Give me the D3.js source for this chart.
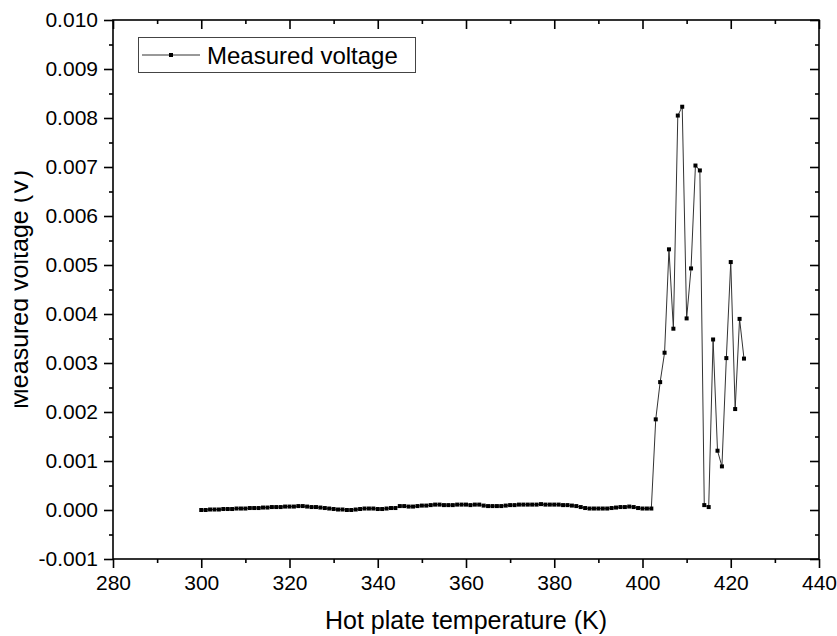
<!DOCTYPE html>
<html><head><meta charset="utf-8">
<script src="https://cdn.jsdelivr.net/npm/d3@7"></script>
<style>body{margin:0;background:#fff}svg{display:block}text{font-family:Arial,"Liberation Sans",sans-serif}</style>
</head><body>
<svg id="c" width="837" height="636"></svg>
<script>
const temperatures = d3.range(300, 424); // 300..423 K, 1 K steps
const flatVoltages = [
  0.00000,0.00000,0.00001,0.00001,0.00001,0.00002,0.00002,0.00002,0.00003,0.00003,0.00003,
  0.00004,0.00004,0.00004,0.00005,0.00005,0.00006,0.00006,0.00006,0.00007,0.00007,
  0.00007,0.00008,0.00008,0.00007,0.00006,0.00006,0.00005,0.00004,0.00003,0.00002,
  0.00001,0.00001,0.00000,0.00000,0.00001,0.00002,0.00003,0.00003,0.00003,0.00002,
  0.00002,0.00003,0.00004,0.00004,0.00008,0.00008,0.00007,0.00007,0.00008,0.00009,
  0.00009,0.00010,0.00011,0.00011,0.00010,0.00010,0.00010,0.00011,0.00011,0.00011,
  0.00010,0.00011,0.00011,0.00009,0.00008,0.00008,0.00008,0.00008,0.00009,0.00010,
  0.00010,0.00011,0.00011,0.00011,0.00011,0.00011,0.00012,0.00011,0.00011,0.00011,
  0.00011,0.00010,0.00010,0.00009,0.00008,0.00006,0.00004,0.00003,0.00003,0.00003,
  0.00003,0.00003,0.00004,0.00005,0.00006,0.00006,0.00007,0.00006,0.00004,0.00003,
  0.00003,0.00003
];
const spikeVoltages = [0.00185,0.00261,0.00321,0.00532,0.00370,0.00805,0.00823,0.00391,0.00493,0.00703,
  0.00693,0.00010,0.00006,0.00348,0.00121,0.00089,0.00310,0.00506,0.00206,0.00390,0.00309];
const voltages = flatVoltages.concat(spikeVoltages);
const xTicks = [280,300,320,340,360,380,400,420,440];
const yTicks = [-0.001,0,0.001,0.002,0.003,0.004,0.005,0.006,0.007,0.008,0.009,0.010];
const seriesName = "Measured voltage";
const xTitle = "Hot plate temperature (K)";
const yTitle = "Measured voltage (V)";

const data = temperatures.map((t,i)=>({t, v: voltages[i]}));
const svg = d3.select("#c");
const L=113, R=819, T=20, B=559;
const x = d3.scaleLinear().domain([280,440]).range([L,R]);
const y = d3.scaleLinear().domain([-0.001,0.010]).range([B,T]);
const xMinor = d3.range(290,440,20), yMinor = d3.range(-0.0005,0.010,0.001);
const fmt = d3.format(".3f");
const yFmt = d => { const s = fmt(Math.abs(d) < 1e-9 ? 0 : d); return s.replace("\u2212","-"); };
const ax = "#000", sw = 1.6;

function styleAxis(g){ g.select(".domain").remove(); g.selectAll("line").attr("stroke",ax).attr("stroke-width",sw); g.selectAll("text").attr("fill","#000"); }

// bottom
svg.append("g").attr("transform",`translate(0,${B})`)
  .call(d3.axisBottom(x).tickValues(xTicks).tickSize(9).tickPadding(7).tickFormat(d3.format("d")))
  .call(styleAxis).call(g=>g.selectAll("text").attr("font-size",21));
svg.append("g").attr("transform",`translate(0,${B})`)
  .call(d3.axisBottom(x).tickValues(xMinor).tickSize(4).tickFormat(""))
  .call(styleAxis);
// top (inward)
svg.append("g").attr("transform",`translate(0,${T})`)
  .call(d3.axisBottom(x).tickValues(xTicks).tickSize(9).tickFormat("")).call(styleAxis);
svg.append("g").attr("transform",`translate(0,${T})`)
  .call(d3.axisBottom(x).tickValues(xMinor).tickSize(4).tickFormat("")).call(styleAxis);
// left
svg.append("g").attr("transform",`translate(${L},0)`)
  .call(d3.axisLeft(y).tickValues(yTicks).tickSize(9).tickPadding(6).tickFormat(yFmt))
  .call(styleAxis).call(g=>g.selectAll("text").attr("font-size",21));
svg.append("g").attr("transform",`translate(${L},0)`)
  .call(d3.axisLeft(y).tickValues(yMinor).tickSize(4).tickFormat("")).call(styleAxis);
// right (inward)
svg.append("g").attr("transform",`translate(${R},0)`)
  .call(d3.axisLeft(y).tickValues(yTicks).tickSize(9).tickFormat("")).call(styleAxis);
svg.append("g").attr("transform",`translate(${R},0)`)
  .call(d3.axisLeft(y).tickValues(yMinor).tickSize(4).tickFormat("")).call(styleAxis);

svg.append("rect").attr("x",L).attr("y",T).attr("width",R-L).attr("height",B-T)
  .attr("fill","none").attr("stroke",ax).attr("stroke-width",sw);

// line + markers
svg.append("path").datum(data).attr("fill","none").attr("stroke","#333").attr("stroke-width",1)
  .attr("d", d3.line().x(d=>x(d.t)).y(d=>y(d.v)));
svg.append("g").selectAll("rect").data(data).join("rect")
  .attr("x",d=>x(d.t)-2).attr("y",d=>y(d.v)-2).attr("width",4).attr("height",4).attr("fill","#000");

// titles
svg.append("text").attr("x",(L+R)/2).attr("y",629).attr("text-anchor","middle").attr("font-size",25).text(xTitle);
svg.append("defs").append("clipPath").attr("id","yc").append("rect").attr("x",14.5).attr("y",0).attr("width",100).attr("height",636);
svg.append("g").attr("clip-path","url(#yc)").append("text")
  .attr("transform",`translate(28,${(T+B)/2}) rotate(-90)`).attr("text-anchor","middle").attr("font-size",25).text(yTitle);

// legend
const lg = svg.append("g");
lg.append("rect").attr("x",138.5).attr("y",37.5).attr("width",277).attr("height",35).attr("fill","#fff").attr("stroke","#444").attr("stroke-width",1);
lg.append("line").attr("x1",142).attr("x2",200).attr("y1",55).attr("y2",55).attr("stroke","#333").attr("stroke-width",1);
lg.append("rect").attr("x",169).attr("y",53).attr("width",4).attr("height",4).attr("fill","#000");
lg.append("text").attr("x",207).attr("y",63.5).attr("font-size",24).text(seriesName);
</script>
</body></html>
